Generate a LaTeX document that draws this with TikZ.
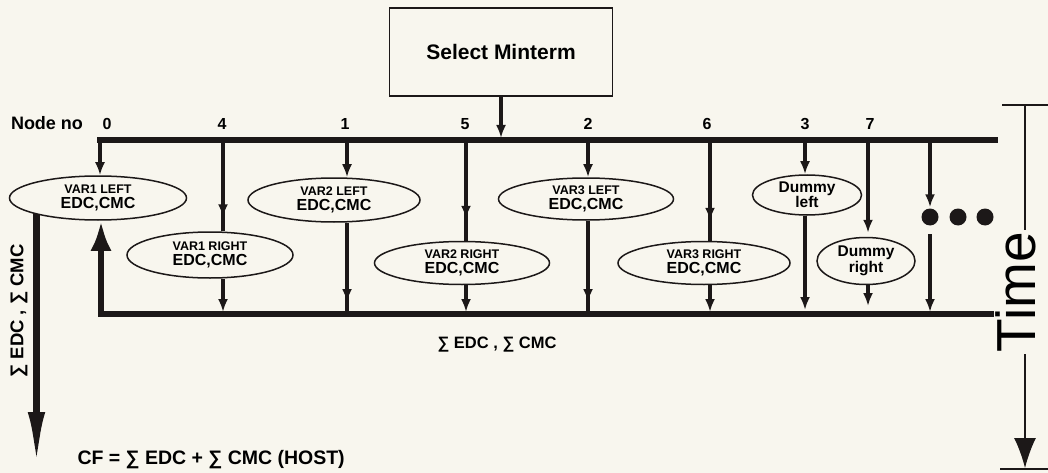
\documentclass[tikz,border=0pt]{standalone}
\usepackage{fontspec}
\setmainfont{Liberation Sans}
\usetikzlibrary{arrows.meta,shapes.geometric,decorations.markings}
\definecolor{paper}{RGB}{248,246,238}
\definecolor{ink}{RGB}{28,24,24}

\tikzset{
  bus/.style={ink,line width=5.5pt,line cap=rect},
  feed/.style={ink,line width=3.4pt,-{Latex[length=13pt,width=10pt]}},
  midfeed/.style={ink,line width=3.4pt,postaction={decorate},
    decoration={markings,mark=at position -#1 with {\arrow{Latex[length=13pt,width=10pt]}}}},
  task/.style={draw=ink,ellipse,line width=1.5pt,inner sep=0pt,align=center,
    font=\bfseries\fontsize{12.5}{15}\selectfont},
  num/.style={font=\bfseries\fontsize{16}{16}\selectfont},
}
\newcommand{\costs}{{\fontsize{16}{16}\selectfont EDC,CMC}}

\begin{document}
\begin{tikzpicture}[x=1pt,y=-1pt]
\fill[paper] (0,0) rectangle (1048,473);
\useasboundingbox (0,0) rectangle (1048,473);

\node[draw=ink,line width=1.5pt,minimum width=223pt,minimum height=88pt,
  font=\bfseries\fontsize{21}{21}\selectfont] (sel) at (501,52) {Select Minterm};

% the two buses
\coordinate (tl) at (100,140); \coordinate (tr) at (995,140);
\coordinate (bl) at (101,314); \coordinate (br) at (991,314);
\draw[bus] (tl) -- (tr);
\draw[bus] (bl) -- (br);
\draw[feed,shorten >=2pt] (sel.south) -- (sel.south |- tl);

\node[num,font=\bfseries\fontsize{18}{18}\selectfont] (nodeno) at (47,123) {Node no};
\foreach \x/\n in {107/0,222/4,345/1,465/5,588/2,707/6,805/3,870/7}
  \node[num] (n\n) at (\x,124) {\n};

% tasks
\node[task,minimum width=177pt,minimum height=44pt] (v1l) at (98,198) {VAR1 LEFT\\\costs};
\node[task,minimum width=166pt,minimum height=46pt] (v1r) at (210,255) {VAR1 RIGHT\\\costs};
\node[task,minimum width=172pt,minimum height=44pt] (v2l) at (334,200) {VAR2 LEFT\\\costs};
\node[task,minimum width=175pt,minimum height=43pt] (v2r) at (462,263) {VAR2 RIGHT\\\costs};
\node[task,minimum width=175pt,minimum height=42pt] (v3l) at (586,199) {VAR3 LEFT\\\costs};
\node[task,minimum width=172pt,minimum height=43pt] (v3r) at (704,263) {VAR3 RIGHT\\\costs};
\node[task,minimum width=109pt,minimum height=40pt,font=\bfseries\fontsize{15.5}{14}\selectfont] (dl) at (807,195) {Dummy\\left};
\node[task,minimum width=98pt,minimum height=47pt,font=\bfseries\fontsize{15.5}{16}\selectfont] (dr) at (866,261) {Dummy\\right};

% columns
\coordinate (t4) at (223,140); \coordinate (b4) at (223,314);
\coordinate (t1) at (347,140); \coordinate (b1) at (347,314);
\coordinate (t5) at (466,140); \coordinate (b5) at (466,314);
\coordinate (t2) at (588,140); \coordinate (b2) at (588,314);
\coordinate (t6) at (710,140); \coordinate (b6) at (710,314);
\coordinate (t3) at (805,140); \coordinate (b3) at (805,314);
\coordinate (t7) at (868,140); \coordinate (b7) at (868,314);
\coordinate (t8) at (930,140); \coordinate (b8) at (930,314);

\draw[feed] (tl) -- (v1l.north -| tl);
\draw[ink,line width=6.5pt,-{Latex[length=30pt,width=21pt]}] (bl) -- (v1l.south -| bl);

\draw[midfeed=14pt] (t4) -- (v1r.north -| t4);
\draw[feed,shorten >=2pt] (v1r.south -| b4) -- (b4);
\draw[feed] (t1) -- (v2l.north -| t1);
\draw[midfeed=12pt] (v2l.south -| b1) -- (b1);
\draw[midfeed=22pt] (t5) -- (v2r.north -| t5);
\draw[feed,shorten >=2pt] (v2r.south -| b5) -- (b5);
\draw[feed] (t2) -- (v3l.north -| t2);
\draw[midfeed=12pt] (v3l.south -| b2) -- (b2);
\draw[midfeed=20pt] (t6) -- (v3r.north -| t6);
\draw[feed,shorten >=2pt] (v3r.south -| b6) -- (b6);
\draw[feed] (t3) -- (dl.north -| t3);
\draw[feed,shorten >=4pt] (dl.south -| b3) -- (b3);
\draw[feed,shorten >=4pt] (t7) -- (dr.north -| t7);
\draw[feed,shorten >=8pt] (dr.south -| b7) -- (b7);

% more nodes to come
\foreach \x [count=\i] in {930,958,985}
  \node[circle,fill=ink,inner sep=0pt,minimum size=17pt] (d\i) at (\x,217) {};
\coordinate (gap) at (930,234);
\draw[feed,shorten >=1pt] (t8) -- (d1.north);
\draw[feed,shorten >=2pt] (gap) -- (b8);

\node[font=\bfseries\fontsize{16.5}{16}\selectfont] (sums) at (497,345) {∑ EDC , ∑ CMC};

% result for the host
\coordinate (sumend) at (38,472);
\draw[ink,line width=7pt,-{Latex[length=60pt,width=17pt]}] (v1l.195) -- (v1l.195 |- sumend);
\node[rotate=90,font=\bfseries\fontsize{18.5}{18}\selectfont] (sumsleft) at (19,311) {∑ EDC , ∑ CMC};
\node[anchor=west,font=\bfseries\fontsize{19.5}{19}\selectfont] (cf) at (74,460) {CF = ∑ EDC + ∑ CMC (HOST)};

% time axis
\coordinate (ttop) at (1025,105); \coordinate (tbot) at (1025,468);
\draw[ink,line width=1.2pt] (1002,105) -- (1048,105);
\draw[ink,line width=1.2pt] (1000,469) -- (1048,469);
\node[rotate=90,inner sep=2pt,font=\fontsize{55}{55}\selectfont] (time) at (1016,292) {Time};
\draw[ink,line width=1.2pt] (ttop) -- (ttop |- time.east);
\draw[ink,line width=1.2pt,-{Latex[length=30pt,width=22pt]}] (ttop |- time.west) -- (tbot);
\end{tikzpicture}
\end{document}
